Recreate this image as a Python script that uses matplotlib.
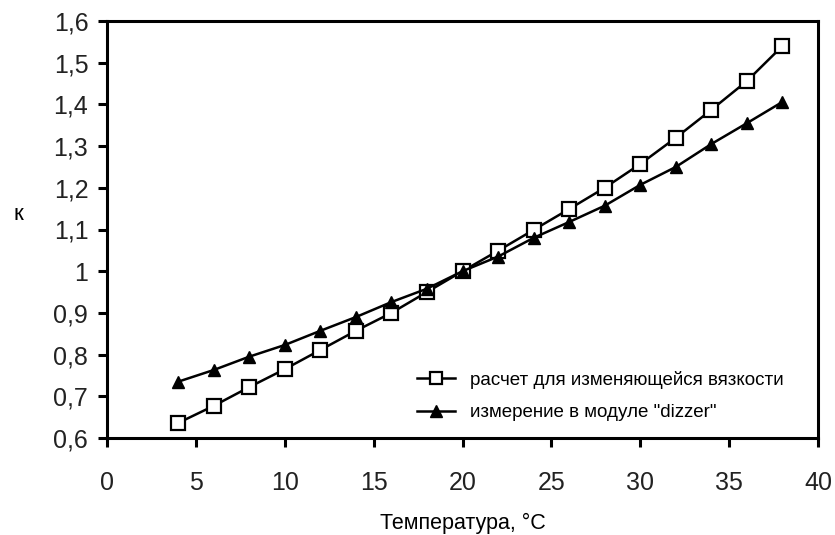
import numpy as np
import matplotlib
matplotlib.use("Agg")
import matplotlib.pyplot as plt

plt.rcParams['font.family'] = ['Liberation Sans', 'DejaVu Sans']

# temperature, C
temp = [4, 6, 8, 10, 12, 14, 16, 18, 20, 22, 24, 26, 28, 30, 32, 34, 36, 38]

# calculation for variable viscosity
k_calc = [0.636, 0.677, 0.722, 0.765, 0.811, 0.857, 0.90, 0.95, 1.0,
          1.049, 1.099, 1.149, 1.20, 1.257, 1.32, 1.387, 1.456, 1.54]

# measurement in "dizzer" module
k_meas = [0.735, 0.763, 0.795, 0.823, 0.857, 0.89, 0.926, 0.958, 1.0,
          1.035, 1.08, 1.118, 1.157, 1.207, 1.25, 1.305, 1.355, 1.406]

xticks = [0, 5, 10, 15, 20, 25, 30, 35, 40]
yticks = [0.6, 0.7, 0.8, 0.9, 1.0, 1.1, 1.2, 1.3, 1.4, 1.5, 1.6]
ylabels = ["0,6", "0,7", "0,8", "0,9", "1", "1,1", "1,2", "1,3", "1,4", "1,5", "1,6"]

fig = plt.figure(figsize=(8.35, 5.35), dpi=100)
ax = fig.add_axes([107/835, 1 - 438/535, (818-107)/835, (438-21)/535])

ax.plot(temp, k_calc, color='black', lw=1.8, marker='s', ms=10,
        mfc='white', mec='black', mew=1.6,
        label='расчет для изменяющейся вязкости')
ax.plot(temp, k_meas, color='black', lw=1.8, marker='^', ms=9,
        mfc='black', mec='black',
        label='измерение в модуле "dizzer"')

ax.set_xlim(0, 40)
ax.set_ylim(0.6, 1.6)
ax.set_xticks(xticks)
ax.set_yticks(yticks)
ax.set_yticklabels(ylabels)
ax.tick_params(direction='out', length=6.5, width=2.2, labelsize=18,
               labelcolor='#222222', pad=7)
ax.tick_params(axis='x', pad=17)
for s in ax.spines.values():
    s.set_linewidth(2.2)

ax.set_xlabel('Температура, °C', fontsize=15.5, labelpad=13)
ax.set_ylabel('к', fontsize=16, rotation=0, ha='center', va='center')
ax.yaxis.set_label_coords(-0.125, 0.537)

leg = ax.legend(loc='lower right', frameon=False, fontsize=13.5,
                handlelength=2.0, handletextpad=0.8, labelspacing=0.8,
                bbox_to_anchor=(0.975, 0.0), markerscale=0.9)

fig.savefig('out.png', dpi=100)
